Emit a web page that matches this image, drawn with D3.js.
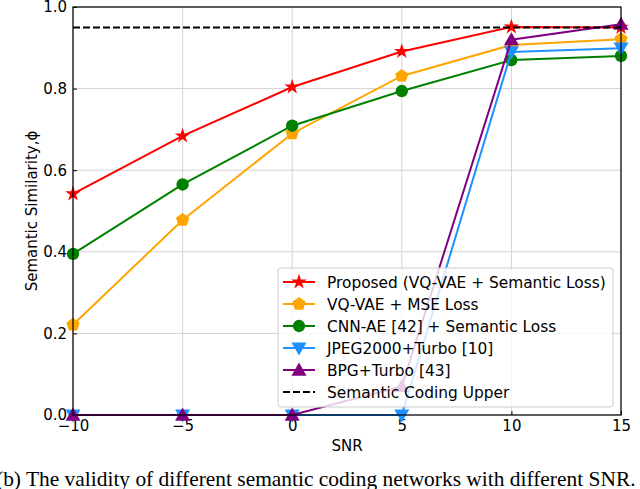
<html>
<head>
<script src="https://cdnjs.cloudflare.com/ajax/libs/d3/7.8.5/d3.min.js"></script>
<style>
body { margin: 0; background: #fff; }
</style>
</head>
<body>
<svg id="canvas" width="640" height="489" font-family="DejaVu Sans, sans-serif"></svg>
<script>

// values
var snr = [-10, -5, 0, 5, 10, 15];
var proposed = [0.542, 0.684, 0.804, 0.891, 0.951, 0.95];
var vqvaeMse = [0.221, 0.478, 0.690, 0.831, 0.907, 0.921];
var cnnAe = [0.395, 0.565, 0.709, 0.794, 0.870, 0.880];
var jpeg2000 = [0, 0, 0, 0, 0.890, 0.899];
var bpg = [0, 0, 0, 0.07, 0.920, 0.958];
var upperBound = 0.95;

var xTicks = [-10, -5, 0, 5, 10, 15];
var yTicks = [0.0, 0.2, 0.4, 0.6, 0.8, 1.0];

var series = [
  {name: 'Proposed (VQ-VAE + Semantic Loss)', values: proposed, color: '#ff0000', marker: 'star'},
  {name: 'VQ-VAE + MSE Loss', values: vqvaeMse, color: '#ffa500', marker: 'pentagon'},
  {name: 'CNN-AE [42] + Semantic Loss', values: cnnAe, color: '#008000', marker: 'circle'},
  {name: 'JPEG2000+Turbo [10]', values: jpeg2000, color: '#1e90ff', marker: 'tridown'},
  {name: 'BPG+Turbo [43]', values: bpg, color: '#800080', marker: 'triup'}
];

var svg = d3.select('#canvas');
var L = 73, R = 621, T = 7, B = 415;

var x = d3.scaleLinear().domain([-10, 15]).range([L, R]);
var y = d3.scaleLinear().domain([0, 1]).range([B, T]);

function fmtX(d) { return d < 0 ? '\u2212' + Math.abs(d) : '' + d; }

// grid
svg.append('g').selectAll('line').data(xTicks).enter().append('line')
  .attr('x1', d => x(d)).attr('x2', d => x(d)).attr('y1', T).attr('y2', B)
  .attr('stroke', '#d3d3d3').attr('stroke-width', 1);
svg.append('g').selectAll('line').data(yTicks).enter().append('line')
  .attr('x1', L).attr('x2', R).attr('y1', d => y(d)).attr('y2', d => y(d))
  .attr('stroke', '#d3d3d3').attr('stroke-width', 1);

// axes (ticks point inward)
var xAxis = svg.append('g').attr('transform', 'translate(0,' + B + ')')
  .call(d3.axisBottom(x).tickValues(xTicks).tickFormat(fmtX).tickSizeInner(-4).tickSizeOuter(0).tickPadding(5));
var yAxis = svg.append('g').attr('transform', 'translate(' + L + ',0)')
  .call(d3.axisLeft(y).tickValues(yTicks).tickFormat(d3.format('.1f')).tickSizeInner(-4).tickSizeOuter(0).tickPadding(6));
[xAxis, yAxis].forEach(function(a) {
  a.attr('font-family', null).attr('font-size', null);
  a.select('.domain').remove();
  a.selectAll('text').attr('font-size', 15).attr('fill', '#000');
  a.selectAll('line').attr('stroke', '#000');
});

svg.append('text').attr('x', (L + R) / 2).attr('y', 451).attr('text-anchor', 'middle')
  .attr('font-size', 15).text('SNR');
svg.append('text').attr('transform', 'translate(37,' + (T + B) / 2 + ') rotate(-90)')
  .attr('text-anchor', 'middle').attr('font-size', 15).text('Semantic Similarity,\u03d5');

// marker shapes
function markerPath(type) {
  if (type === 'star') return d3.symbol(d3.symbolStar, 75)();
  if (type === 'circle') return d3.symbol(d3.symbolCircle, 120)();
  var pts = [], r, i, a;
  if (type === 'pentagon') {
    r = 7;
    for (i = 0; i < 5; i++) {
      a = -Math.PI / 2 + i * 2 * Math.PI / 5;
      pts.push([r * Math.cos(a), r * Math.sin(a)]);
    }
  } else {
    r = 7.5;
    var sgn = type === 'triup' ? 1 : -1;
    pts = [[0, -sgn * r], [r, sgn * r * 0.75], [-r, sgn * r * 0.75]];
  }
  return 'M' + pts.join('L') + 'Z';
}

var line = d3.line().x((d, i) => x(snr[i])).y(d => y(d));

var plot = svg.append('g');
series.forEach(function(s) {
  var g = plot.append('g');
  g.append('path').datum(s.values).attr('d', line)
    .attr('fill', 'none').attr('stroke', s.color).attr('stroke-width', 2);
  g.selectAll('path.m').data(s.values).enter().append('path').attr('class', 'm')
    .attr('transform', (d, i) => 'translate(' + x(snr[i]) + ',' + y(d) + ')')
    .attr('d', markerPath(s.marker)).attr('fill', s.color);
});

plot.append('line').attr('x1', L).attr('x2', R).attr('y1', y(upperBound)).attr('y2', y(upperBound))
  .attr('stroke', '#000').attr('stroke-width', 2).attr('stroke-dasharray', '7,3');

// frame
svg.append('rect').attr('x', L).attr('y', T).attr('width', R - L).attr('height', B - T)
  .attr('fill', 'none').attr('stroke', '#000').attr('stroke-width', 1.2);

// legend
var lg = svg.append('g');
lg.append('rect').attr('x', 278).attr('y', 268).attr('width', 335).attr('height', 139).attr('rx', 3)
  .attr('fill', '#fff').attr('fill-opacity', 0.8).attr('stroke', '#ccc');
var entries = series.map(s => ({name: s.name, color: s.color, marker: s.marker}))
  .concat([{name: 'Semantic Coding Upper', color: '#000', marker: null}]);
entries.forEach(function(e, i) {
  var cy = 282 + i * 22;
  lg.append('line').attr('x1', 283).attr('x2', 315).attr('y1', cy).attr('y2', cy)
    .attr('stroke', e.color).attr('stroke-width', 2)
    .attr('stroke-dasharray', e.marker ? null : '7,3');
  if (e.marker) lg.append('path').attr('transform', 'translate(299,' + cy + ')')
    .attr('d', markerPath(e.marker)).attr('fill', e.color);
  lg.append('text').attr('x', 327).attr('y', cy + 5.5).attr('font-size', 15.4).text(e.name);
});

// caption, fitted to the page width
var cap = svg.append('text').attr('x', -4).attr('y', 486)
  .style('font-family', '"Liberation Serif", "Times New Roman", serif')
  .attr('font-size', 18).text('(b) The validity of different semantic coding networks with different SNR.');
var w = cap.node().getComputedTextLength();
cap.attr('font-size', 18 * 640 / w);

</script>
</body>
</html>
